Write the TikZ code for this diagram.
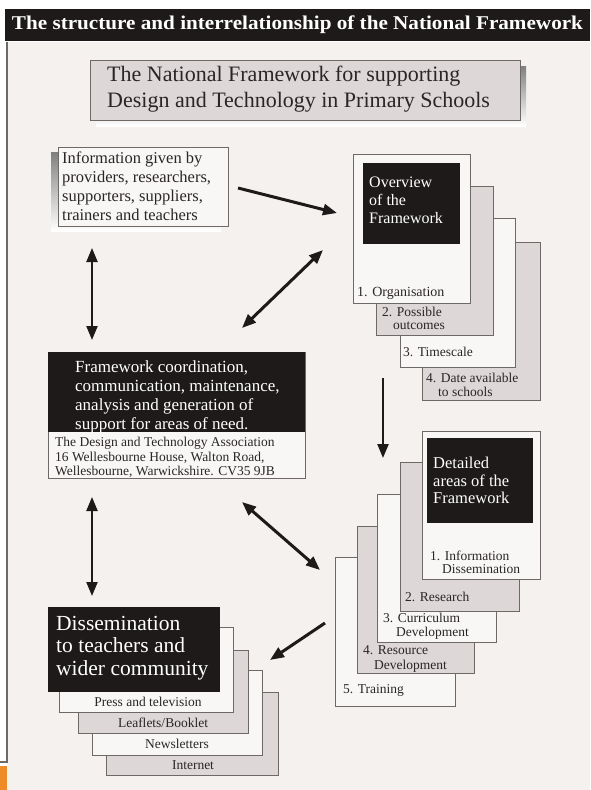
\documentclass[tikz,border=0pt]{standalone}
\usepackage{fontspec}
\setmainfont{Liberation Serif}
\usetikzlibrary{arrows.meta}
\definecolor{paper}{HTML}{F4F1EF}
\definecolor{ink}{HTML}{1E1A1A}
\definecolor{cardgray}{HTML}{DDD8D7}
\definecolor{cardwhite}{HTML}{F9F7F6}
\definecolor{edge}{HTML}{6E6866}
\definecolor{shade}{HTML}{4C4747}
\definecolor{tab}{HTML}{EE8A28}
\definecolor{textgray}{HTML}{2A2626}
\newcommand{\fsz}[2]{\fontsize{#1}{#2}\selectfont}
\begin{document}
\begin{tikzpicture}[x=1pt,y=-1pt,
  panel/.style={draw=edge, line width=1pt, anchor=north west, inner sep=0pt, outer sep=0pt},
  darkpanel/.style={fill=ink, anchor=north west, inner sep=0pt, outer sep=0pt},
  lbl/.style={anchor=north west, inner sep=0pt, align=left, text=textgray},
  wlbl/.style={lbl, text=white},
  item/.style={anchor=base west, inner sep=0pt, text=textgray, font=\fsz{13.5}{15}},
  citem/.style={item, anchor=base},
  tip/.style={-{Triangle[length=14pt,width=11pt]}},
  arw/.style={line width=3pt, draw=ink, tip},
  darw/.style={line width=3pt, draw=ink, {Triangle[length=14pt,width=11pt]}-{Triangle[length=14pt,width=11pt]}}]
\useasboundingbox (0,0) rectangle (590,790);
\fill[white] (0,0) rectangle (590,790);
\fill[paper] (7,42) rectangle (590,790);
% left rule and corner tab
\draw[edge, line width=1.2pt] (7,42) -- (7,762) -- (0,762);
\fill[tab] (0,766) rectangle (7,790);

% heading bar
\node[darkpanel, minimum width=585pt, minimum height=32pt] (titlebar) at (5,9) {};
\node[text=white, inner sep=0pt, font=\fsz{19.5}{21}\bfseries] (titletext) at (titlebar.center) {\scalebox{1.085}[1]{The structure and interrelationship of the National Framework}};

% framed subtitle with drop shadow
\fill[shade] (96,66) rectangle (526,126);
\node[panel, fill=cardgray, minimum width=430pt, minimum height=60pt] (subtitle) at (90,60) {};
\node[lbl, font=\fsz{22}{26}] (subtext) at (107,66) {The National Framework for supporting\\Design and Technology in Primary Schools};

% information sources
\fill[shade] (51,152) rectangle (221,231);
\node[panel, fill=cardwhite, minimum width=170pt, minimum height=79pt] (info) at (58,147) {};
\node[lbl, font=\fsz{16.5}{19}] (infotext) at (62,152) {Information given by\\providers, researchers,\\supporters, suppliers,\\trainers and teachers};

% coordination box
\node[panel, fill=cardwhite, minimum width=257pt, minimum height=126pt] (coord) at (48,352) {};
\node[darkpanel, minimum width=257pt, minimum height=80pt] (coordhead) at (48,352) {};
\node[wlbl, font=\fsz{17}{19}] (coordtext) at (75,360.5) {Framework coordination,\\communication, maintenance,\\analysis and generation of\\support for areas of need.};
\node[lbl, font=\fsz{13.5}{14.5}] (address) at (55,437) {The Design and Technology Association\\16 Wellesbourne House, Walton Road,\\Wellesbourne, Warwickshire. CV35 9JB};

% overview stack
\node[panel, fill=cardgray, minimum width=118pt, minimum height=158pt] (ov4) at (422,242) {};
\node[panel, fill=cardwhite, minimum width=115pt, minimum height=149pt] (ov3) at (400,218) {};
\node[panel, fill=cardgray, minimum width=117pt, minimum height=149pt] (ov2) at (376,186) {};
\node[panel, fill=cardwhite, minimum width=117pt, minimum height=149pt] (ov1) at (353,154) {};
\node[darkpanel, minimum width=97pt, minimum height=81pt] (ovhead) at (363,163) {};
\node[wlbl, font=\fsz{16}{18}] (ovtext) at (369,177) {Overview\\of the\\Framework};
\node[item, font=\fsz{14}{15}] (ovone) at (357,296) {1. Organisation};
\node[item] (ovtwo) at (382,316) {2. Possible};
\node[item] (ovtwob) at (393,329) {outcomes};
\node[item] (ovthree) at (403,356) {3. Timescale};
\node[item] (ovfour) at (426,382) {4. Date available};
\node[item] (ovfourb) at (438,396) {to schools};

% detailed areas stack
\node[panel, fill=cardwhite, minimum width=120pt, minimum height=149pt] (dt5) at (335,557) {};
\node[panel, fill=cardgray, minimum width=117pt, minimum height=147pt] (dt4) at (357,526) {};
\node[panel, fill=cardwhite, minimum width=119pt, minimum height=148pt] (dt3) at (377,494) {};
\node[panel, fill=cardgray, minimum width=119pt, minimum height=149pt] (dt2) at (400,462) {};
\node[panel, fill=cardwhite, minimum width=118pt, minimum height=148pt] (dt1) at (422,431) {};
\node[darkpanel, minimum width=106pt, minimum height=85pt] (dthead) at (427,438) {};
\node[wlbl, font=\fsz{16.5}{17.5}] (dttext) at (433,457) {Detailed\\areas of the\\Framework};
\node[item] (dtone) at (430,560) {1. Information};
\node[item] (dtoneb) at (442,573) {Dissemination};
\node[item] (dttwo) at (405,601) {2. Research};
\node[item] (dtthree) at (383,622) {3. Curriculum};
\node[item] (dtthreeb) at (396,636) {Development};
\node[item] (dtfour) at (363,654) {4. Resource};
\node[item] (dtfourb) at (374,669) {Development};
\node[item] (dtfive) at (343,693) {5. Training};

% dissemination stack
\node[panel, fill=cardgray, minimum width=172pt, minimum height=83pt] (ds4) at (106,692) {};
\node[panel, fill=cardwhite, minimum width=170pt, minimum height=85pt] (ds3) at (92,670) {};
\node[panel, fill=cardgray, minimum width=170pt, minimum height=83pt] (ds2) at (78,650) {};
\node[panel, fill=cardwhite, minimum width=174pt, minimum height=85pt] (ds1) at (59,627) {};
\node[darkpanel, minimum width=172pt, minimum height=85pt] (dshead) at (48,607) {};
\node[wlbl, font=\fsz{21.5}{22.5}] (dstext) at (56,616) {Dissemination\\to teachers and\\wider community};
\node[citem] (dsone) at (148,706) {Press and television};
\node[citem] (dstwo) at (163,727) {Leaflets/Booklet};
\node[citem] (dsthree) at (177,748) {Newsletters};
\node[citem] (dsfour) at (193,769) {Internet};

% arrow end points
\coordinate (a1s) at (238,188);  \coordinate (a1e) at (337,213);
\coordinate (a2s) at (242,328);  \coordinate (a2e) at (323,250);
\coordinate (a3s) at (92,248);   \coordinate (a3e) at (92,340);
\coordinate (a4s) at (383,378);  \coordinate (a4e) at (383,458);
\coordinate (a5s) at (242,502);  \coordinate (a5e) at (320,570);
\coordinate (a6s) at (325,623);  \coordinate (a6e) at (270,660);
\coordinate (a7s) at (92,497);   \coordinate (a7e) at (92,596);

\draw[arw] (a1s) -- (a1e);
\draw[darw] (a2s) -- (a2e);
\draw[darw, line width=2.2pt] (a3s) -- (a3e);
\draw[arw, line width=2.2pt] (a4s) -- (a4e);
\draw[darw] (a5s) -- (a5e);
\draw[arw] (a6s) -- (a6e);
\draw[darw, line width=2.2pt] (a7s) -- (a7e);
\end{tikzpicture}
\end{document}
